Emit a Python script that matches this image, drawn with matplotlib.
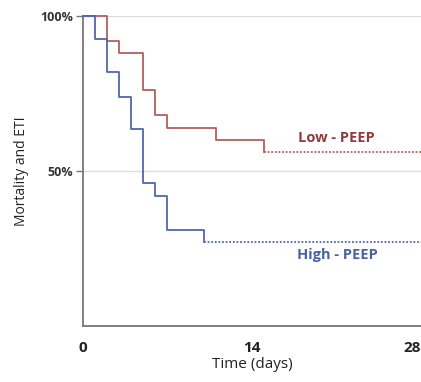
import matplotlib
matplotlib.use("Agg")
import matplotlib.pyplot as plt

# Data
low_days = [0, 2, 3, 5, 6, 7, 11, 15]
low_vals = [1.00, 0.92, 0.88, 0.76, 0.68, 0.64, 0.60, 0.56]
high_days = [0, 1, 2, 3, 4, 5, 6, 7, 10]
high_vals = [1.00, 0.926, 0.82, 0.74, 0.634, 0.462, 0.42, 0.31, 0.27]
end_day = 28
xticks = [0, 14, 28]
yticks = [0.5, 1.0]
ytick_labels = ["50%", "100%"]

plt.rcParams['font.family'] = ['Open Sans', 'DejaVu Sans']

fig = plt.figure(figsize=(4.21, 3.82), dpi=100)
ax = fig.add_axes([0.197, 0.1466, 0.803, 0.8115])

red = "#b0605e"
blue = "#4f68aa"

for days, vals, col in [(low_days, low_vals, red), (high_days, high_vals, blue)]:
    ax.step(days, vals, where="post", color=col, lw=1.3, clip_on=False, zorder=3)
    ax.plot([days[-1], end_day], [vals[-1], vals[-1]], color=col, lw=1.3,
            ls=(0, (1, 1)), clip_on=False, zorder=3)

ax.set_xlim(0, 28)
ax.set_ylim(0, 1.0)
ax.set_xticks(xticks)
ax.set_xticklabels([str(t) for t in xticks], fontsize=11, fontweight="bold", color="#222222")
ax.get_xticklabels()[-1].set_horizontalalignment("right")
ax.set_yticks(yticks)
ax.set_yticklabels(ytick_labels, fontsize=9, fontweight="bold", color="#333333")
ax.tick_params(axis="x", length=0, pad=11)
ax.tick_params(axis="y", length=5, width=1, color="#777777", pad=2)
ax.grid(axis="y", color="#dddddd", lw=1)
ax.set_axisbelow(True)
for s in ["top", "right"]:
    ax.spines[s].set_visible(False)
for s in ["left", "bottom"]:
    ax.spines[s].set_color("#777777")
    ax.spines[s].set_linewidth(1.3)

ax.set_xlabel("Time (days)", fontsize=11, color="#222222", labelpad=1)
ax.set_ylabel("Mortality and ETI", fontsize=10, color="#222222", labelpad=8)

ax.text(21.0, low_vals[-1] + 0.046, "Low - PEEP", color="#8e3b3b", fontsize=10.5,
        fontweight="bold", ha="center", va="center")
ax.text(21.1, high_vals[-1] - 0.041, "High - PEEP", color="#4b62a0", fontsize=10.5,
        fontweight="bold", ha="center", va="center")

fig.savefig("out.png", dpi=100)
